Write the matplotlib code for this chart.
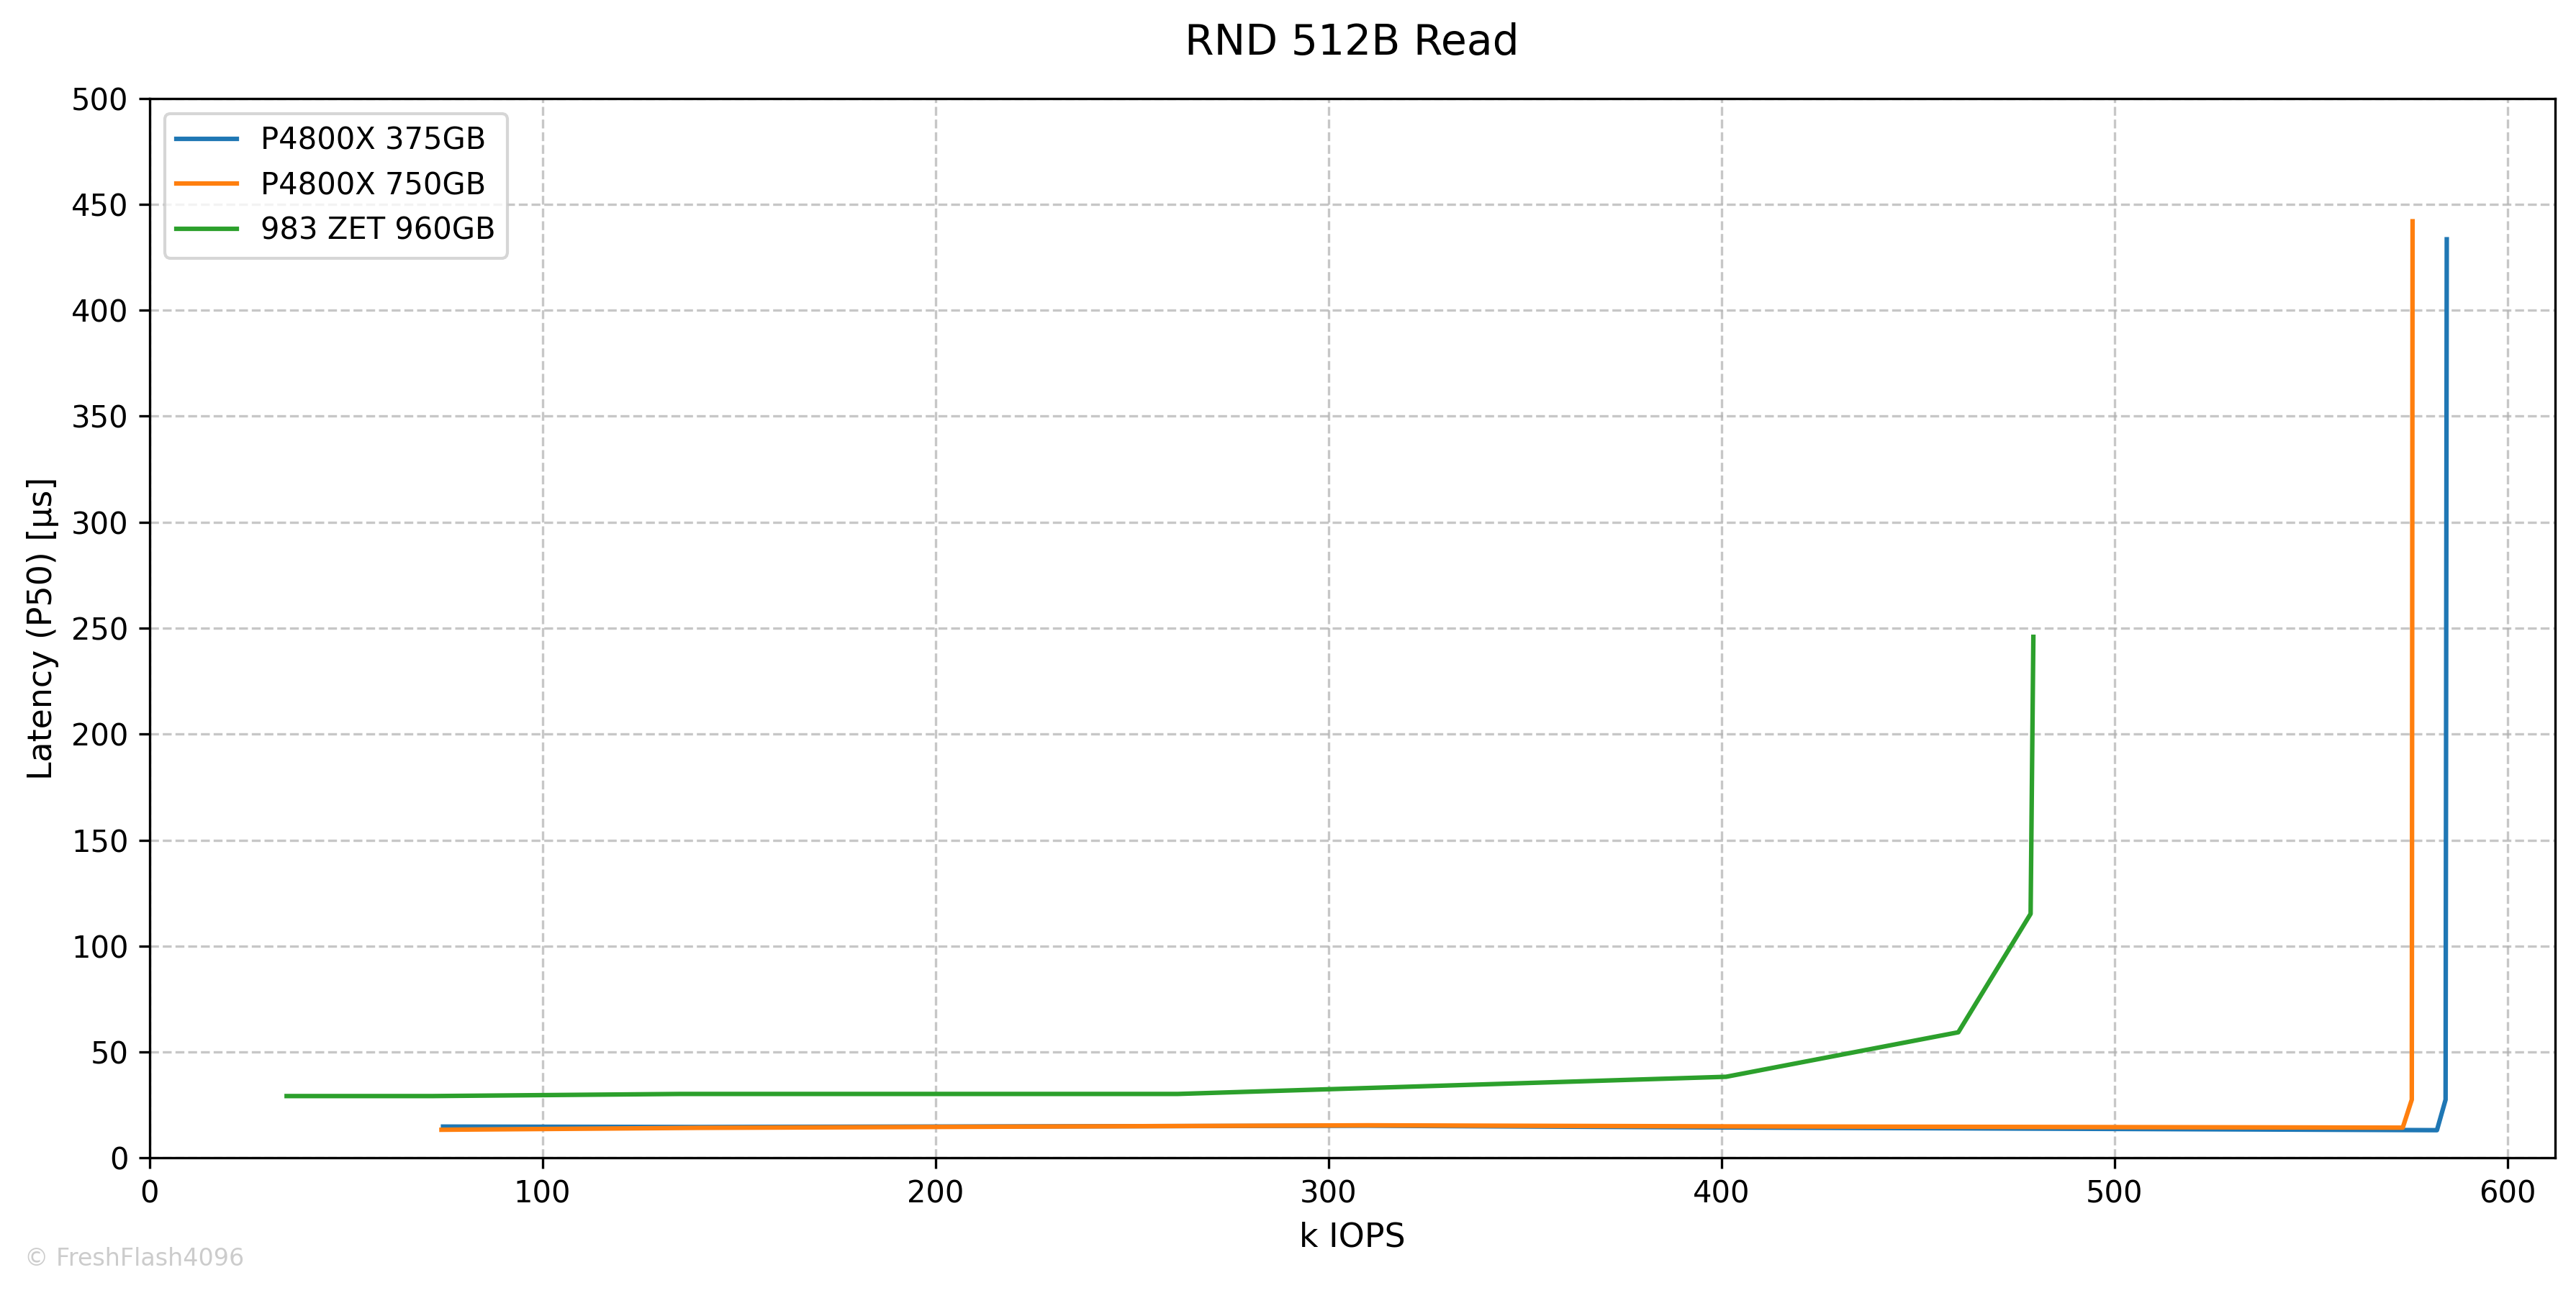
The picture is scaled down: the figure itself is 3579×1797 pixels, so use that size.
import numpy as np
import matplotlib
matplotlib.use("Agg")
import matplotlib.pyplot as plt

# Latency (P50) vs k IOPS
labels = ["P4800X 375GB", "P4800X 750GB", "983 ZET 960GB"]

p375_iops = [74.7, 140, 310, 400, 582.1, 584.3, 584.6]
p375_lat = [14.8, 14.6, 15.2, 14.4, 13.1, 27.5, 433.5]

p750_iops = [74.3, 140, 310, 400, 573.4, 575.7, 575.9]
p750_lat = [13.3, 14.2, 15.4, 14.9, 14.3, 27.5, 442.0]

zet_iops = [34.9, 72.0, 135.0, 261.7, 401.2, 460.3, 478.7, 479.4]
zet_lat = [29.2, 29.2, 30.2, 30.2, 38.3, 59.3, 115.2, 245.9]

W, H = 3579, 1797
ax_left, ax_right = 207.7 / W, 3549.5 / W
fig = plt.figure(figsize=(W / 300, H / 300), dpi=300)
fig.subplots_adjust(left=ax_left, right=ax_right,
                    top=1 - 136.7 / H, bottom=1 - 1609.3 / H)
ax = fig.add_subplot(111)

ax.plot(p375_iops, p375_lat, label=labels[0], color="#1f77b4", linewidth=1.5)
ax.plot(p750_iops, p750_lat, label=labels[1], color="#ff7f0e", linewidth=1.5)
ax.plot(zet_iops, zet_lat, label=labels[2], color="#2ca02c", linewidth=1.5)

ax.set_xlim(left=0)
ax.set_ylim(0, 500)
ax.set_yticks(np.arange(0, 501, 50))
ax.set_xticks(np.arange(0, 601, 100))
ax.tick_params(labelsize=10)
ax.grid(True, linestyle="--", alpha=0.7)

ax.set_xlabel("k IOPS", fontsize=11)
ax.set_ylabel("Latency (P50) [µs]", fontsize=11)
# title sits over the middle of the axes
fig.suptitle("RND 512B Read", fontsize=14, y=0.983, x=(ax_left + ax_right) / 2)
ax.legend(loc="upper left", fontsize=10)

fig.text(34 / W, 1 - 1759 / H, "© FreshFlash4096", fontsize=8,
         color="#cccccc", va="baseline", ha="left")

fig.savefig("out.png", dpi=300)
